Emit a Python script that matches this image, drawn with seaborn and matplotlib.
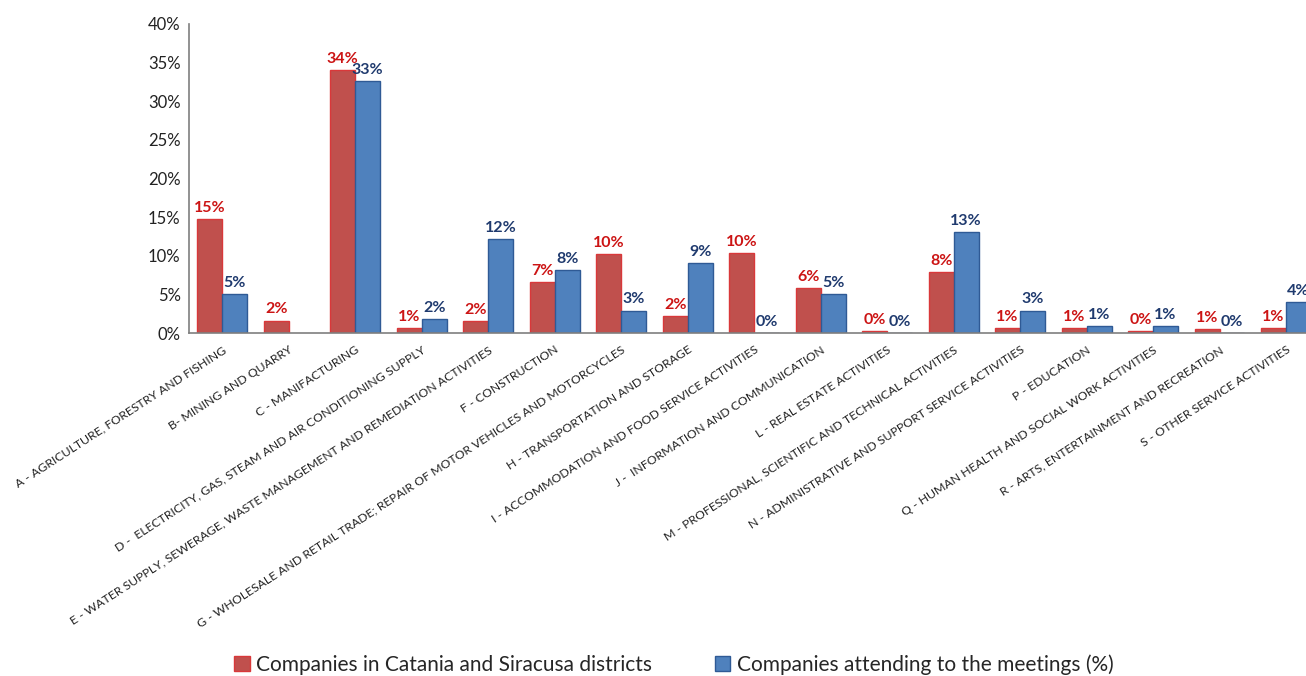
import numpy as np
import pandas as pd
import matplotlib
matplotlib.use("Agg")
import matplotlib.pyplot as plt
from matplotlib.patches import Patch
from matplotlib.ticker import FuncFormatter
import seaborn as sns

# Economic sectors (NACE sections)
sectors = [
    "A - AGRICULTURE, FORESTRY AND FISHING",
    "B- MINING AND QUARRY",
    "C - MANIFACTURING",
    "D -  ELECTRICITY, GAS, STEAM AND AIR CONDITIONING SUPPLY",
    "E - WATER SUPPLY, SEWERAGE, WASTE MANAGEMENT AND REMEDIATION ACTIVITIES",
    "F - CONSTRUCTION",
    "G - WHOLESALE AND RETAIL TRADE; REPAIR OF MOTOR VEHICLES AND MOTORCYCLES",
    "H - TRANSPORTATION AND STORAGE",
    "I - ACCOMMODATION AND FOOD SERVICE ACTIVITIES",
    "J -  INFORMATION AND COMMUNICATION",
    "L - REAL ESTATE ACTIVITIES",
    "M - PROFESSIONAL, SCIENTIFIC AND TECHNICAL ACTIVITIES",
    "N - ADMINISTRATIVE AND SUPPORT SERVICE ACTIVITIES",
    "P - EDUCATION",
    "Q - HUMAN HEALTH AND SOCIAL WORK ACTIVITIES",
    "R - ARTS, ENTERTAINMENT AND RECREATION",
    "S - OTHER SERVICE ACTIVITIES",
]

series_names = [
    "Companies in Catania and Siracusa districts",
    "Companies attending to the meetings (%)",
]

# Share of companies per sector, in percent
districts_share = [14.7, 1.6, 34.0, 0.6, 1.55, 6.6, 10.2, 2.2, 10.3, 5.8,
                   0.2, 7.9, 0.6, 0.65, 0.2, 0.55, 0.65]
meetings_share = [5.0, np.nan, 32.6, 1.85, 12.2, 8.1, 2.9, 9.1, 0.0, 5.0,
                  0.0, 13.1, 2.9, 0.9, 0.9, 0.0, 4.0]

bar_colors = ["#C0504D", "#4F81BD"]
edge_colors = ["#D9383A", "#2F5A95"]
label_colors = ["#CC1414", "#1F3A6E"]

df = pd.DataFrame({
    "sector": sectors * 2,
    "series": [series_names[0]] * len(sectors) + [series_names[1]] * len(sectors),
    "share": districts_share + meetings_share,
}).dropna()

sns.set_style("white")
plt.rcParams["font.family"] = ["Lato", "DejaVu Sans"]

fig = plt.figure(figsize=(13.06, 6.76), dpi=100)
ax = fig.add_axes([189 / 1306, 1 - 333 / 676, 1 - 189 / 1306, (333 - 24) / 676])

sns.barplot(
    data=df, x="sector", y="share", hue="series",
    order=sectors, hue_order=series_names,
    palette=bar_colors, saturation=1, width=0.75, gap=0,
    linewidth=1, legend=False, ax=ax,
)

for cont, ec, lc in zip(ax.containers, edge_colors, label_colors):
    for bar in cont:
        bar.set_edgecolor(ec)
    ax.bar_label(cont, fmt="{:.0f}%", padding=3, color=lc,
                 fontweight="bold", fontsize=11.5)

ax.set_ylim(0, 40)
ax.set_xlim(-0.5, 16.3)
ax.set_yticks(range(0, 41, 5))
ax.yaxis.set_major_formatter(FuncFormatter(lambda v, _: f"{v:.0f}%"))
ax.tick_params(axis="y", labelsize=12, length=0, pad=6, labelcolor="#222222")
ax.tick_params(axis="x", length=0, pad=8)
ax.set_xticks(range(len(sectors)))
ax.set_xticklabels(sectors, rotation=33, ha="right", va="top",
                   rotation_mode="anchor", fontsize=8.8, color="#222222")
ax.set_xlabel("")
ax.set_ylabel("")

for side in ("top", "right"):
    ax.spines[side].set_visible(False)
for side in ("left", "bottom"):
    ax.spines[side].set_color("#7F7F7F")
    ax.spines[side].set_linewidth(1.2)

handles = [Patch(facecolor=c, edgecolor=e, linewidth=1, label=n)
           for c, e, n in zip(bar_colors, edge_colors, series_names)]
fig.legend(handles=handles, loc="lower center", bbox_to_anchor=(0.516, -0.026),
           ncol=2, frameon=False, fontsize=15, handlelength=0.75,
           handleheight=0.75, handletextpad=0.3, columnspacing=3.0)

fig.savefig("out.png", dpi=100)
